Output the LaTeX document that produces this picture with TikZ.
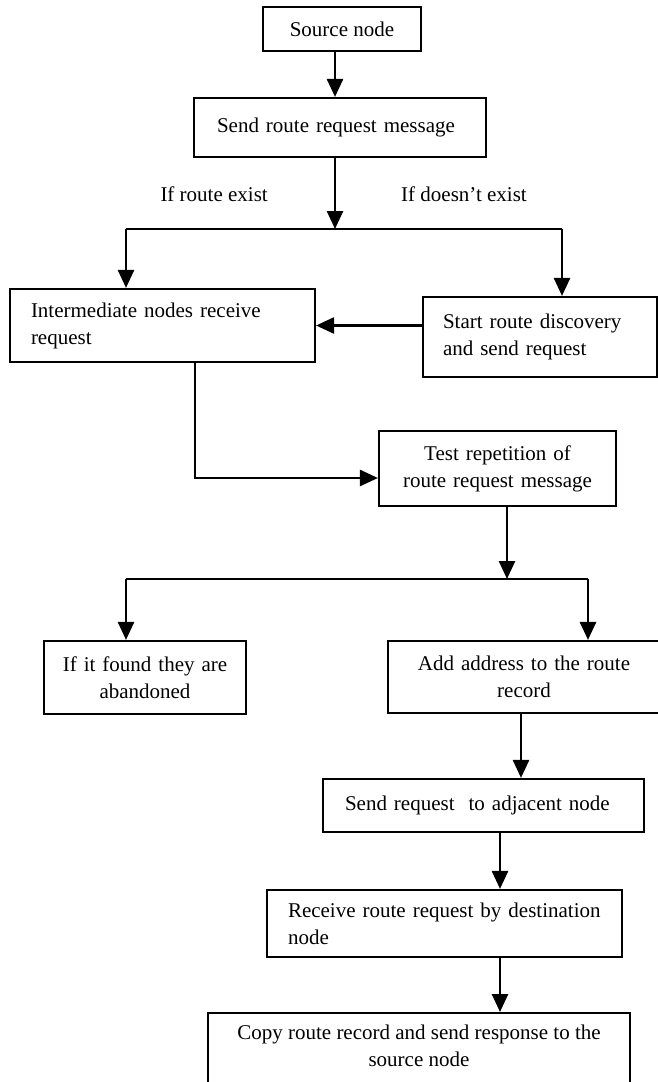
\documentclass[tikz,border=0pt]{standalone}
\usepackage{fontspec}
\setmainfont{Liberation Serif}
\usetikzlibrary{arrows.meta,calc}
\begin{document}
\begin{tikzpicture}[x=1pt,y=-1pt,
  txt/.style={font=\fontsize{21}{27}\selectfont},
  box/.style={draw, line width=2.1pt, inner ysep=0pt, txt},
  lbox/.style={box, align=left, inner xsep=#1},
  cbox/.style={box, align=center, inner xsep=4pt},
  ln/.style={line width=2.6pt},
  arr/.style={ln, -{Triangle[width=16pt,length=18pt]}},
  lbl/.style={txt, inner sep=0pt}]
\useasboundingbox (0,0) rectangle (658,1082);
\clip (0,0) rectangle (658,1082);

% boxes
\node[cbox, minimum width=158pt, minimum height=44pt] (src) at (342,29) {Source node};
\node[lbox=23pt, text width=246pt, minimum width=292pt, minimum height=59pt] (send) at (340,127.5) {Send route request message};
\node[lbox=21pt, text width=263pt, minimum width=305pt, minimum height=73pt] (inter) at (162.5,325.5) {Intermediate nodes receive\\request};
\node[lbox=20pt, text width=194pt, minimum width=234pt, minimum height=80pt] (start) at (540,337) {Start route discovery\\and send request};
\node[cbox, text width=229pt, minimum width=237pt, minimum height=75pt] (test) at (497.5,468.5) {Test repetition of\\route request message};
\node[cbox, text width=194pt, minimum width=202pt, minimum height=73pt] (aband) at (145,677.5) {If it found they are\\abandoned};
\node[cbox, text width=264pt, minimum width=272pt, minimum height=72pt] (addr) at (524,677) {Add address to the route\\record};
\node[lbox=22pt, text width=277pt, minimum width=321pt, minimum height=53pt] (sendreq) at (483.5,805.5) {Send request~ to adjacent node};
\node[lbox=21pt, text width=313pt, minimum width=355pt, minimum height=67pt] (recv) at (444.5,923.5) {Receive route request by destination\\node};
\node[box, anchor=north, minimum width=422pt, minimum height=100pt] (copy) at (419,1012) {};
\node[lbl, align=center, anchor=north] (copytxt) at (419,1025) {Copy route record and send response to the\\source node};

% labels
\node[lbl, anchor=base east] (lex) at (268,201) {If route exist};
\node[lbl, anchor=base west] (lnex) at (401,201) {If doesn’t exist};

% connector coordinates
\coordinate (t1) at (335,0);
\coordinate (j1) at (335,229);
\coordinate (j1l) at (126,229);
\coordinate (j1r) at (562,229);
\coordinate (bend1) at (195,478);
\coordinate (t2) at (507,579);
\coordinate (j2l) at (126,579);
\coordinate (j2r) at (588,579);
\coordinate (t3) at (521,0);
\coordinate (t4) at (500,0);

% connectors
\draw[arr] (src.south -| t1) -- (send.north -| t1);
\draw[arr] (send.south -| t1) -- (j1);
\draw[ln] (j1l) -- (j1r);
\draw[arr] (j1l) -- (inter.north -| j1l);
\draw[arr] (j1r) -- (start.north -| j1r);
\draw[arr] (start.west |- inter.east) -- (inter.east);
\draw[arr] (inter.south -| bend1) -- (bend1) -- (test.west |- bend1);
\draw[arr] (test.south -| t2) -- (t2);
\draw[ln] (j2l) -- (j2r);
\draw[arr] (j2l) -- (aband.north -| j2l);
\draw[arr] (j2r) -- (addr.north -| j2r);
\draw[arr] (addr.south -| t3) -- (sendreq.north -| t3);
\draw[arr] (sendreq.south -| t4) -- (recv.north -| t4);
\draw[arr] (recv.south -| t4) -- (copy.north -| t4);
\end{tikzpicture}
\end{document}
